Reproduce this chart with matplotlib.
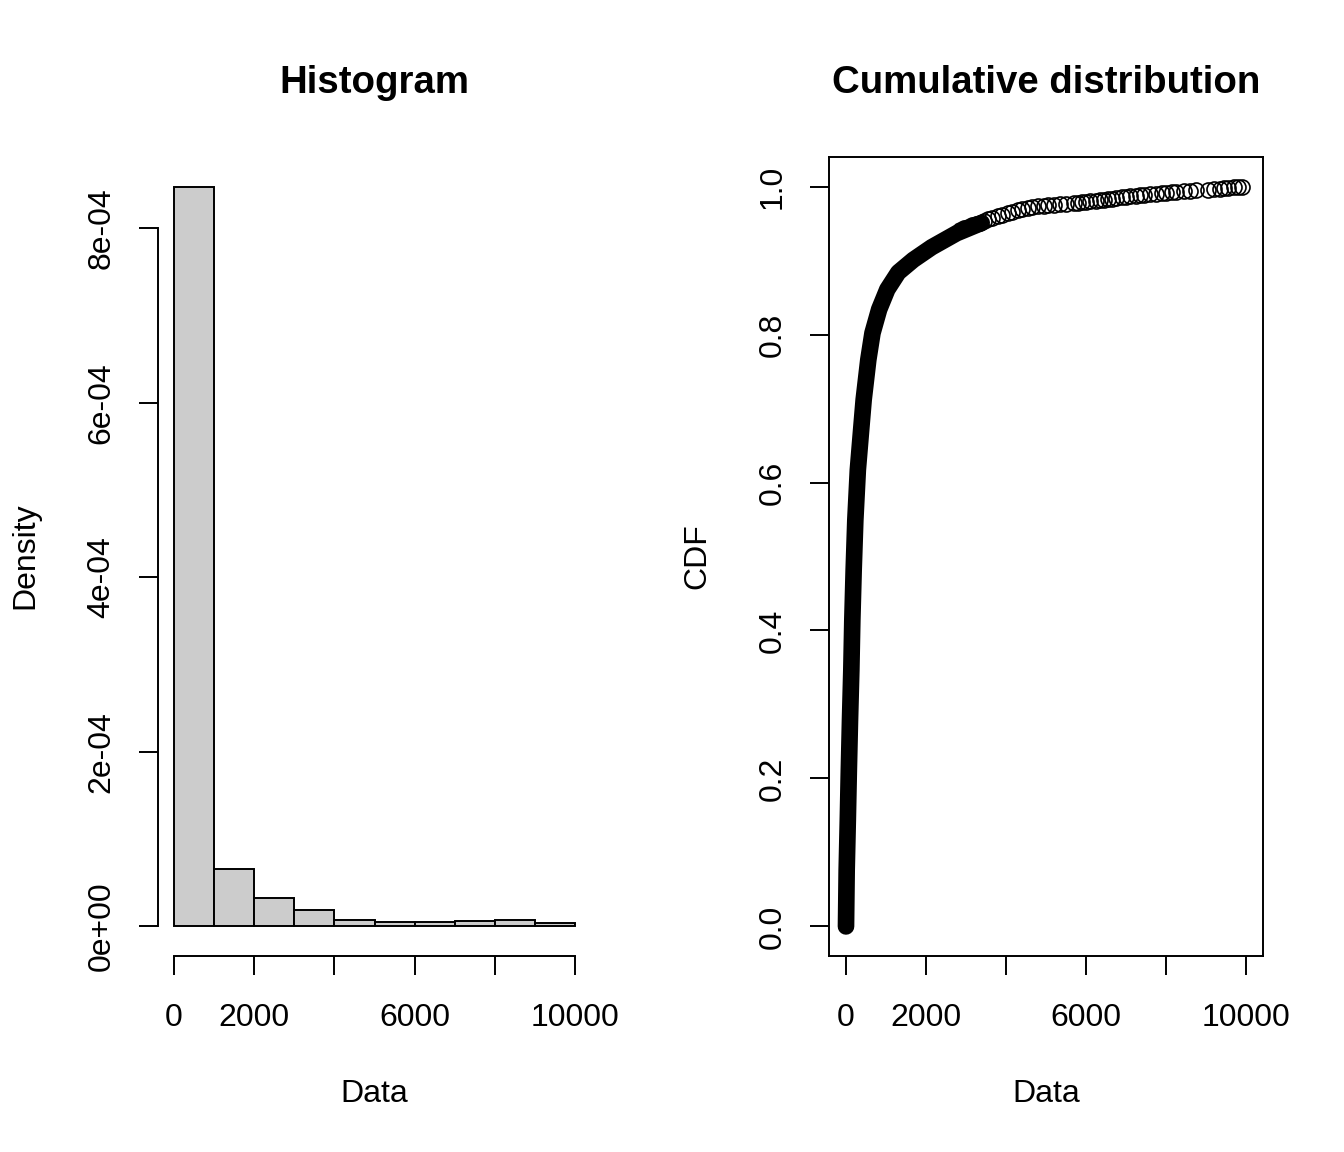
import matplotlib
matplotlib.use("Agg")
import matplotlib.pyplot as plt

plt.rcParams['font.family'] = ['Liberation Sans', 'DejaVu Sans']

# histogram (density per bin of width 1000)
bin_edges = [0, 1000, 2000, 3000, 4000, 5000, 6000, 7000, 8000, 9000, 10000]
densities = [8.48e-4, 6.53e-5, 3.2e-5, 1.83e-5, 7.7e-6, 5.4e-6, 4.6e-6, 6.1e-6, 6.9e-6, 4.2e-6]

dense_x = [0, 17, 45, 71, 100, 133, 158, 192, 233, 296, 380, 442, 558, 662,
           829, 1033, 1308, 1683, 2142, 2767, 3392]
dense_f = [0.0, 0.076, 0.143, 0.211, 0.279, 0.346, 0.414, 0.482, 0.549, 0.617,
           0.672, 0.712, 0.766, 0.802, 0.834, 0.861, 0.884, 0.901, 0.918, 0.937,
           0.951]

# empirical cdf, tail points (separate circles)
tail_x = [2850, 2950, 3050, 3150, 3250, 3350, 3450, 3550, 3650, 3800, 3900, 4050,
          4150, 4300, 4400, 4550, 4650, 4800, 4950, 5050, 5200, 5350, 5500, 5700,
          5800, 5900, 6000, 6100, 6250, 6350, 6450, 6550, 6650, 6750, 6900, 7000,
          7100, 7250, 7350, 7450, 7600, 7750, 7900, 8000, 8150, 8250, 8450, 8600,
          8750, 9050, 9200, 9350, 9450, 9550, 9700, 9800, 9892]
tail_f = [0.942, 0.944, 0.946, 0.948, 0.950, 0.951, 0.954, 0.956, 0.958, 0.960,
          0.962, 0.964, 0.966, 0.968, 0.970, 0.971, 0.9727, 0.9734, 0.9741,
          0.9748, 0.9755, 0.9762, 0.9769, 0.9776, 0.9783, 0.9790, 0.9797, 0.9804,
          0.9811, 0.9818, 0.9825, 0.9832, 0.9839, 0.9846, 0.9853, 0.9860, 0.9867,
          0.9874, 0.9881, 0.9888, 0.9895, 0.9902, 0.9909, 0.9916, 0.9923, 0.9930,
          0.9937, 0.9944, 0.9951, 0.9958, 0.9965, 0.9972, 0.9979, 0.9986, 0.9990,
          0.9995, 1.0]

x_ticks = [0, 2000, 4000, 6000, 8000, 10000]
x_ticklabels = ['0', '2000', '', '6000', '', '10000']
hist_yticks = [0, 2e-4, 4e-4, 6e-4, 8e-4]
hist_yticklabels = ['0e+00', '2e-04', '4e-04', '6e-04', '8e-04']
cdf_yticks = [0, 0.2, 0.4, 0.6, 0.8, 1.0]
cdf_yticklabels = ['0.0', '0.2', '0.4', '0.6', '0.8', '1.0']

W, H = 1344, 1152
fig = plt.figure(figsize=(W / 100, H / 100), dpi=100)

def fx(px):
    return px / W

def fy(py):
    return 1 - py / H

lw = 1.4
fs = 23
bottom, height = fy(956), (956 - 157) / H
ax1 = fig.add_axes([fx(158), bottom, (591 - 158) / W, height])
ax2 = fig.add_axes([fx(829), bottom, (1263 - 829) / W, height])

# --- histogram
widths = [bin_edges[i + 1] - bin_edges[i] for i in range(len(densities))]
ax1.bar(bin_edges[:-1], densities, width=widths, align='edge',
        color='#CCCCCC', edgecolor='black', linewidth=lw)
hmax = max(densities)
ax1.set_xlim(-400, 10400)
ax1.set_ylim(-0.04 * hmax, 1.04 * hmax)
for s in ['top', 'right']:
    ax1.spines[s].set_visible(False)
ax1.spines['left'].set_bounds(0, 8e-4)
ax1.spines['bottom'].set_bounds(0, 10000)
for s in ['left', 'bottom']:
    ax1.spines[s].set_linewidth(lw)
ax1.set_xticks(x_ticks)
ax1.set_xticklabels(x_ticklabels)
ax1.set_yticks(hist_yticks)
ax1.set_yticklabels(hist_yticklabels, rotation=90, va='center')

# --- cdf
ax2.plot(dense_x, dense_f, '-', color='black', linewidth=12,
         solid_capstyle='round', solid_joinstyle='round')
ax2.plot(tail_x, tail_f, 'o', markerfacecolor='none', markeredgecolor='black',
         markersize=10.8, markeredgewidth=1.2)
ax2.set_xlim(-425, 10425)
ax2.set_ylim(-0.04, 1.04)
for s in ax2.spines.values():
    s.set_linewidth(lw)
ax2.set_xticks(x_ticks)
ax2.set_xticklabels(x_ticklabels)
ax2.set_yticks(cdf_yticks)
ax2.set_yticklabels(cdf_yticklabels, rotation=90, va='center')

for ax in (ax1, ax2):
    ax.tick_params(direction='out', length=13.7, width=lw, labelsize=fs,
                   colors='black')
    ax.tick_params(axis='x', pad=20)
    ax.tick_params(axis='y', pad=16)

# titles and axis labels
fig.text(fx(374), fy(93), 'Histogram', ha='center', va='baseline',
         fontsize=27.6, fontweight='bold')
fig.text(fx(1046), fy(93), 'Cumulative distribution', ha='center', va='baseline',
         fontsize=27.6, fontweight='bold')
fig.text(fx(374), fy(1102), 'Data', ha='center', va='baseline', fontsize=fs)
fig.text(fx(1046), fy(1102), 'Data', ha='center', va='baseline', fontsize=fs)
fig.text(fx(25), fy(556), 'Density', ha='center', va='center', rotation=90,
         fontsize=fs)
fig.text(fx(697), fy(556), 'CDF', ha='center', va='center', rotation=90,
         fontsize=fs)

fig.savefig('out.png', dpi=100)
